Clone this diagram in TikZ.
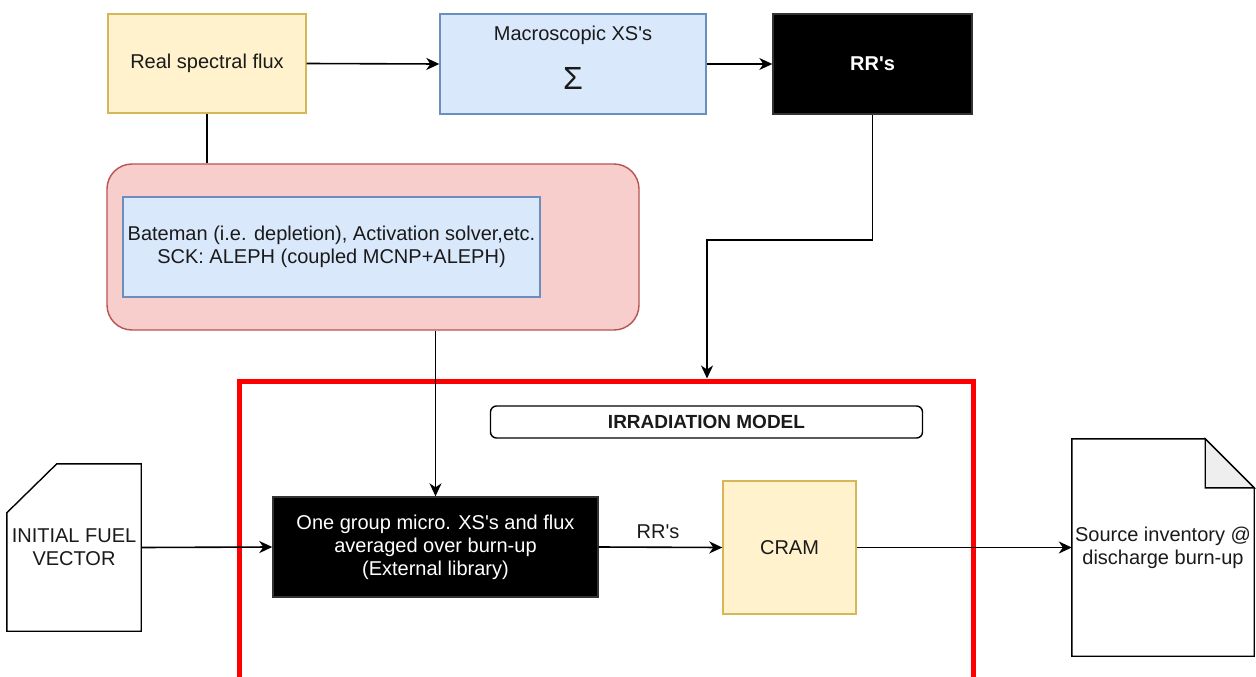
\documentclass[tikz,border=0pt]{standalone}
\usepackage{fontspec}
\setmainfont{Liberation Sans}
\usetikzlibrary{arrows.meta,calc}

\definecolor{ylwfill}{HTML}{FFF2CC}
\definecolor{ylwline}{HTML}{D6B656}
\definecolor{bluefill}{HTML}{DAE8FC}
\definecolor{blueline}{HTML}{6C8EBF}
\definecolor{redfill}{HTML}{F8CECC}
\definecolor{redline}{HTML}{B85450}
\definecolor{foldgray}{HTML}{EEEEEE}
\definecolor{txt}{HTML}{1A1A1A}
\newcommand{\sq}{\textquotesingle}

\begin{document}
\begin{tikzpicture}[x=1pt,y=-1pt,
  every node/.style={font=\fontsize{20}{23}\selectfont, align=center, inner sep=0pt, text=txt},
  blk/.style={draw, line width=1.4pt},
  yellowbox/.style={blk, fill=ylwfill, draw=ylwline},
  bluebox/.style={blk, fill=bluefill, draw=blueline},
  blackbox/.style={blk, fill=black, draw=black!80, text=white},
  wire/.style={line width=1.6pt, draw=black},
  arr/.style={wire, -{Stealth[length=13pt,width=12pt,inset=4pt]}}]

\clip (0,0) rectangle (1256,677);
\fill[white] (0,0) rectangle (1256,677);

% upper row
\node[yellowbox, minimum width=198pt, minimum height=99pt] (flux) at (207,63.5) {Real spectral flux};
\node[bluebox, minimum width=266pt, minimum height=100pt] (macro) at (573,64) {};
\node (macrot) at (573,35) {Macroscopic XS\sq s};
\node[font=\fontsize{32}{34}\selectfont] (sigma) at (573,78) {Σ};
\node[blackbox, minimum width=199pt, minimum height=100pt, font=\fontsize{20}{23}\selectfont\bfseries] (rr) at (872.5,64) {RR\sq s};

% solver block
\node[blk, fill=redfill, draw=redline, rounded corners=25pt, minimum width=532pt, minimum height=166pt] (pink) at (373,247) {};
\node[bluebox, minimum width=417pt, minimum height=100pt] (bateman) at (331.5,247)
  {Bateman (i.e. depletion), Activation solver,etc.\\SCK: ALEPH (coupled MCNP+ALEPH)};

% irradiation model frame
\node[draw=red, line width=5pt, minimum width=734pt, minimum height=318pt] (irr) at (606,540) {};
\node[draw=black, line width=1.4pt, rounded corners=6pt, minimum width=432pt, minimum height=32pt, font=\fontsize{19}{22}\selectfont\bfseries] (irrlabel) at (706.5,422) {IRRADIATION MODEL};
\node[blackbox, minimum width=325pt, minimum height=100pt] (mg) at (435.5,547)
  {One group micro. XS\sq s and flux\\averaged over burn-up\\(External library)};
\node[yellowbox, minimum width=133pt, minimum height=133pt] (cram) at (789.5,547.5) {CRAM};

% input card and output document
\node[minimum width=134pt, minimum height=167pt] (ifv) at (74,547.5) {INITIAL FUEL\\VECTOR};
\draw[blk] (ifv.south west) -- (ifv.south east) -- (ifv.north east)
  -- ($(ifv.north west)+(50,0)$) -- ($(ifv.north west)+(0,49)$) -- cycle;
\node[minimum width=182pt, minimum height=217pt] (doc) at (1163,547.5) {Source inventory @\\discharge burn-up};
\draw[blk] (doc.south west) -- (doc.north west) -- ($(doc.north east)+(-49,0)$)
  -- ($(doc.north east)+(0,49)$) -- (doc.south east) -- cycle;
\draw[blk, fill=foldgray] ($(doc.north east)+(-49,0)$) -- ($(doc.north east)+(-49,49)$)
  -- ($(doc.north east)+(0,49)$) -- cycle;

% connectors
\coordinate (bend) at (707,240);
\coordinate (rin) at (707,378.5);
\draw[arr] (flux.east) -- (macro.west);
\draw[arr] (macro.east) -- (rr.west);
\draw[wire] (flux.south) -- (flux.south |- pink.north);
\draw[arr] (rr.south) |- (bend) -- (rin);
\draw[arr] (pink.south -| mg.north) -- (mg.north);
\draw[arr] (ifv.east) -- (mg.west);
\draw[arr] (mg.east) -- node[pos=0.48, yshift=16pt] (rrlabel) {RR\sq s} (cram.west);
\draw[arr] (cram.east) -- (doc.west);

\end{tikzpicture}
\end{document}
